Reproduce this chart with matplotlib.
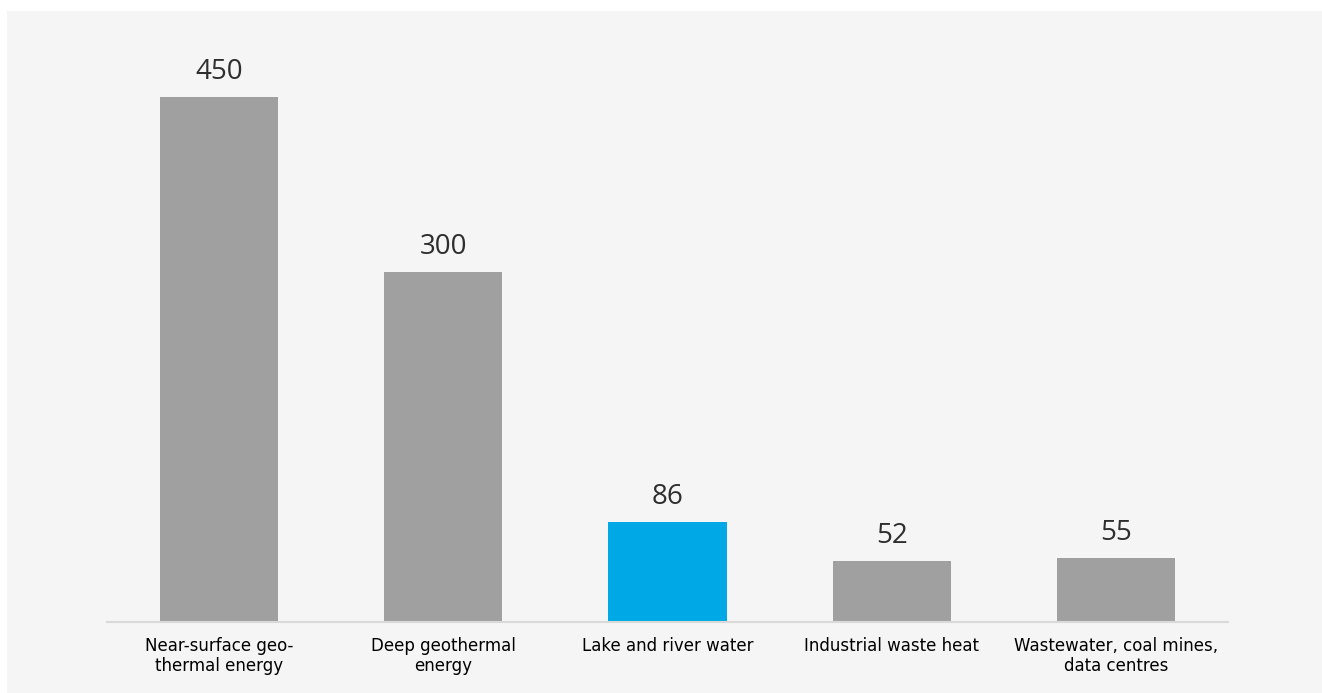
import matplotlib.pyplot as plt
from matplotlib.patches import Rectangle

# heat source potential per category
categories = ["Near-surface geo-\nthermal energy", "Deep geothermal\nenergy",
              "Lake and river water", "Industrial waste heat",
              "Wastewater, coal mines,\ndata centres"]
values = [450, 300, 86, 52, 55]
colors = ["#a0a0a0", "#a0a0a0", "#00a9e6", "#a0a0a0", "#a0a0a0"]

W, H = 1322, 693
fig = plt.figure(figsize=(W / 100, H / 100), dpi=100, facecolor="white")

# light grey panel behind the chart
fig.add_artist(Rectangle((7 / W, 0), 1 - 7 / W, 1 - 11 / H,
                         transform=fig.transFigure, facecolor="#f5f5f5",
                         edgecolor="none", zorder=-1))

ymax = 520
ax = fig.add_axes([107 / W, (H - 622) / H, 1121 / W, ymax * 525 / 450 / H])
ax.set_facecolor("none")

x = range(len(values))
ax.bar(x, values, width=0.527, color=colors, zorder=2)
ax.set_xlim(-0.5, 4.5)
ax.set_ylim(0, ymax)

for i, v in enumerate(values):
    ax.annotate(str(v), (i, v), xytext=(0, 13), textcoords="offset points",
                ha="center", va="baseline", fontsize=20,
                family=["Open Sans", "DejaVu Sans"], color="#2e2e2e")

for i, lab in enumerate(categories):
    ax.annotate(lab, (i, 0), xytext=(0, -11), textcoords="offset points",
                ha="center", va="top", fontsize=12, color="black",
                family="DejaVu Sans", linespacing=1.15, annotation_clip=False)

for s in ["top", "right", "left"]:
    ax.spines[s].set_visible(False)
ax.spines["bottom"].set_color("#d9d9d9")
ax.spines["bottom"].set_linewidth(1.5)
ax.set_xticks([])
ax.set_yticks([])

fig.savefig("out.png", dpi=100, facecolor="white")
